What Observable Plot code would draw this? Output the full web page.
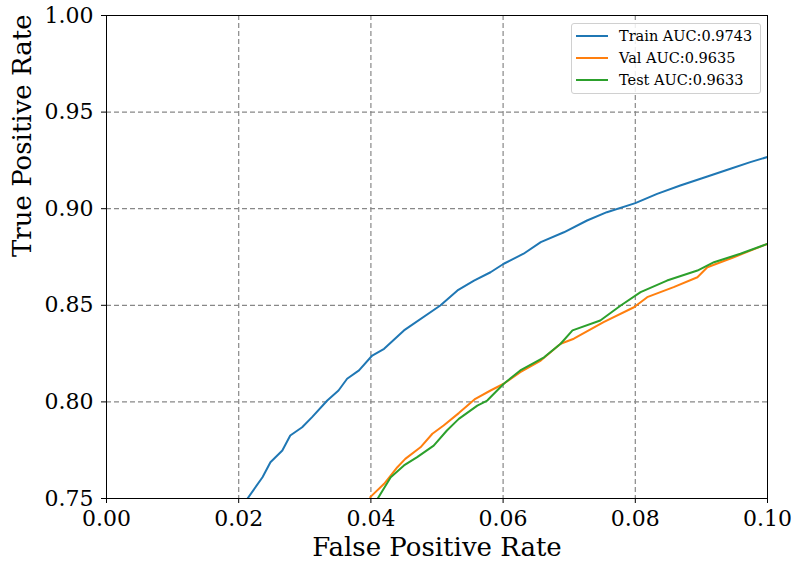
<!DOCTYPE html>
<html>
<head>
<meta charset="utf-8">
<script src="https://cdn.jsdelivr.net/npm/d3@7"></script>
<script src="https://cdn.jsdelivr.net/npm/@observablehq/plot@0.6"></script>
<style>
  body { margin: 0; background: #fff; }
  #wrap { position: relative; width: 794px; height: 562px; }
  #legend { position: absolute; left: 571px; top: 23px; width: 190px; height: 71px; box-sizing: border-box;
    border: 1px solid #d0d0d0; border-radius: 3px; background: rgba(255,255,255,0.85);
    font-family: "DejaVu Serif", serif; font-size: 14.5px; color: #000; padding-top: 1px; }
  .row { display: flex; align-items: center; height: 22px; white-space: nowrap; }
  .sw { width: 32px; height: 2px; margin-left: 4px; margin-right: 11px; flex: none; }
</style>
</head>
<body>
<div id="wrap"><div id="legend"></div></div>
<script>
const seriesNames = ["Train AUC:0.9743", "Val AUC:0.9635", "Test AUC:0.9633"];
const colors = ["#1f77b4", "#ff7f0e", "#2ca02c"];
const xTicks = [0, 0.02, 0.04, 0.06, 0.08, 0.10];
const yTicks = [0.75, 0.80, 0.85, 0.90, 0.95, 1.00];

const trainFpr = [0.0213, 0.0236, 0.0248, 0.0266, 0.0278, 0.0296, 0.0311, 0.0334, 0.0351, 0.0364, 0.0382, 0.0402, 0.0420, 0.0450, 0.0505, 0.0531, 0.0556, 0.0581, 0.0601, 0.0631, 0.0657, 0.0692, 0.0727, 0.0757, 0.0800, 0.0833, 0.0868, 0.0909, 0.0944, 0.0974, 0.1002];
const trainTpr = [0.7498, 0.7610, 0.7688, 0.7748, 0.7826, 0.7869, 0.7921, 0.8007, 0.8059, 0.8120, 0.8163, 0.8240, 0.8275, 0.8370, 0.8499, 0.8577, 0.8628, 0.8671, 0.8715, 0.8767, 0.8827, 0.8878, 0.8939, 0.8982, 0.9029, 0.9077, 0.9120, 0.9167, 0.9207, 0.9241, 0.9270];

const valFpr = [0.0399, 0.0420, 0.0440, 0.0452, 0.0475, 0.0493, 0.0510, 0.0533, 0.0558, 0.0581, 0.0601, 0.0626, 0.0657, 0.0687, 0.0707, 0.0752, 0.0798, 0.0818, 0.0858, 0.0894, 0.0909, 0.0949, 0.1000];
const valTpr = [0.7507, 0.7576, 0.7662, 0.7705, 0.7765, 0.7835, 0.7878, 0.7942, 0.8016, 0.8059, 0.8094, 0.8154, 0.8214, 0.8301, 0.8327, 0.8413, 0.8490, 0.8542, 0.8594, 0.8645, 0.8697, 0.8749, 0.8818];

const testFpr = [0.0410, 0.0430, 0.0450, 0.0470, 0.0495, 0.0515, 0.0533, 0.0561, 0.0576, 0.0601, 0.0626, 0.0662, 0.0687, 0.0705, 0.0747, 0.0778, 0.0808, 0.0848, 0.0894, 0.0919, 0.0959, 0.1000];
const testTpr = [0.7498, 0.7610, 0.7671, 0.7714, 0.7774, 0.7852, 0.7912, 0.7981, 0.8007, 0.8094, 0.8163, 0.8231, 0.8301, 0.8370, 0.8421, 0.8499, 0.8568, 0.8628, 0.8680, 0.8723, 0.8767, 0.8818];

const fprs = [trainFpr, valFpr, testFpr];
const tprs = [trainTpr, valTpr, testTpr];
const data = [];
seriesNames.forEach((s, i) => fprs[i].forEach((x, j) => data.push({series: s, fpr: x, tpr: tprs[i][j]})));

const font = "DejaVu Serif";
const chart = Plot.plot({
  width: 794, height: 562,
  marginLeft: 106, marginRight: 27, marginTop: 15, marginBottom: 64,
  style: {fontFamily: font, background: "#fff"},
  x: {domain: [0, 0.1]},
  y: {domain: [0.75, 1.0]},
  color: {domain: seriesNames, range: colors},
  marks: [
    Plot.gridX(xTicks.slice(1, -1), {stroke: "#888", strokeOpacity: 1, strokeDasharray: "5,3", strokeWidth: 1.2}),
    Plot.gridY(yTicks.slice(1, -1), {stroke: "#888", strokeOpacity: 1, strokeDasharray: "5,3", strokeWidth: 1.2}),
    Plot.line(data, {x: "fpr", y: "tpr", z: "series", stroke: "series", strokeWidth: 2, clip: true}),
    Plot.frame({stroke: "#000", strokeWidth: 1}),
    Plot.axisX(xTicks, {tickFormat: d3.format(".2f"), tickSize: 5, tickPadding: 7, fontSize: 22, label: null, fontFamily: font, fill: "#000"}),
    Plot.axisY(yTicks, {tickFormat: d3.format(".2f"), tickSize: 5, tickPadding: 8, fontSize: 22, label: null, fontFamily: font, fill: "#000"}),
    Plot.text(["False Positive Rate"], {frameAnchor: "bottom", dy: 39, lineAnchor: "top", fontSize: 26, fontFamily: font, fill: "#000"}),
    Plot.text(["True Positive Rate"], {frameAnchor: "left", dx: -84, rotate: -90, lineAnchor: "middle", fontSize: 26, fontFamily: font, fill: "#000"})
  ]
});
const wrap = document.getElementById("wrap");
wrap.insertBefore(chart, wrap.firstChild);

const legend = document.getElementById("legend");
seriesNames.forEach((s, i) => {
  const row = document.createElement("div");
  row.className = "row";
  const sw = document.createElement("div");
  sw.className = "sw";
  sw.style.background = colors[i];
  const t = document.createElement("span");
  t.textContent = s;
  row.appendChild(sw); row.appendChild(t);
  legend.appendChild(row);
});
</script>
</body>
</html>
